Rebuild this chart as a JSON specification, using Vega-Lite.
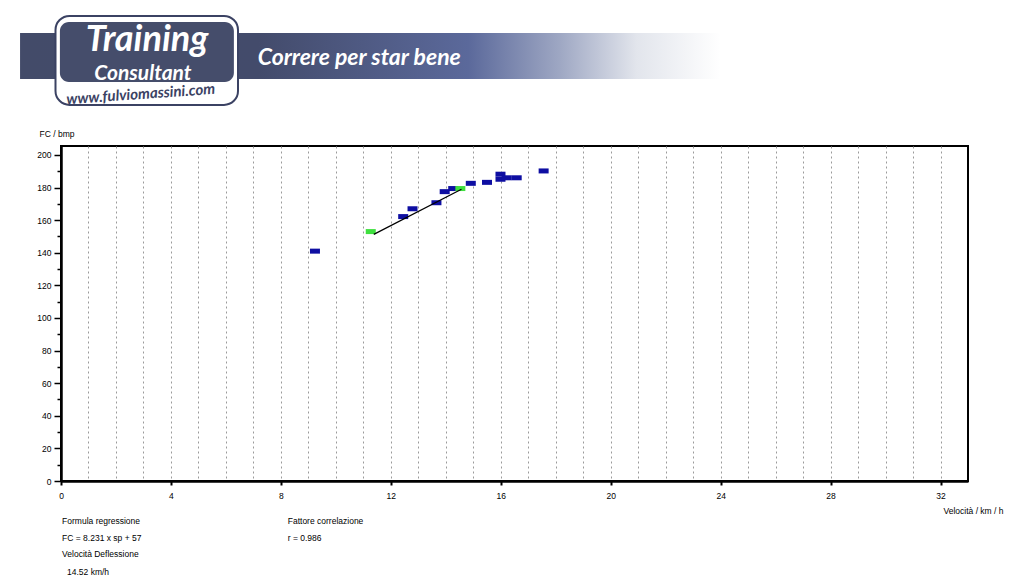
{
  "$schema": "https://vega.github.io/schema/vega-lite/v6.json",
  "width": 907,
  "height": 335,
  "autosize": {"type": "none"},
  "padding": {"left": 61, "top": 146, "right": 56, "bottom": 103},
  "background": "white",
  "config": {
    "view": {"stroke": "black", "strokeWidth": 2},
    "font": "Liberation Sans"
  },
  "data": {"values": [{}]},
  "datasets": {
    "punti": [
      {"vel": 9.24, "fc": 141, "tipo": "misura"},
      {"vel": 12.45, "fc": 162.2, "tipo": "misura"},
      {"vel": 12.79, "fc": 167, "tipo": "misura"},
      {"vel": 13.66, "fc": 170.7, "tipo": "misura"},
      {"vel": 13.96, "fc": 177.5, "tipo": "misura"},
      {"vel": 14.27, "fc": 179.4, "tipo": "misura"},
      {"vel": 14.91, "fc": 182.6, "tipo": "misura"},
      {"vel": 15.5, "fc": 183.2, "tipo": "misura"},
      {"vel": 15.99, "fc": 188.2, "tipo": "misura"},
      {"vel": 15.99, "fc": 185.1, "tipo": "misura"},
      {"vel": 16.22, "fc": 186, "tipo": "misura"},
      {"vel": 16.58, "fc": 186, "tipo": "misura"},
      {"vel": 17.56, "fc": 190.2, "tipo": "misura"},
      {"vel": 11.27, "fc": 153, "tipo": "soglia"},
      {"vel": 14.53, "fc": 179.4, "tipo": "soglia"}
    ],
    "regressione": [
      {"vel": 11.38, "fc": 151.3},
      {"vel": 14.57, "fc": 179}
    ]
  },
  "layer": [
    {
      "mark": {"type": "rect", "fill": {"gradient": "linear", "x1": 0, "x2": 1, "y1": 0, "y2": 0, "stops": [
        {"offset": 0, "color": "#434b69"},
        {"offset": 0.34, "color": "#434b6b"},
        {"offset": 0.64, "color": "#5b699b"},
        {"offset": 0.77, "color": "#9ea7c3"},
        {"offset": 0.88, "color": "#e2e5ec"},
        {"offset": 1, "color": "#ffffff"}
      ]}},
      "encoding": {
        "x": {"datum": -1.49, "type": "quantitative", "scale": {"domain": [0, 33], "nice": false}},
        "x2": {"datum": 24.0},
        "y": {"datum": 274.8, "type": "quantitative", "scale": {"domain": [0, 205.5], "nice": false}},
        "y2": {"datum": 246.6}
      }
    },
    {
      "mark": {"type": "rect", "fill": "white", "stroke": "#3b4263", "strokeWidth": 2, "cornerRadius": 14},
      "encoding": {
        "x": {"datum": -0.2, "type": "quantitative", "scale": {"domain": [0, 33], "nice": false}},
        "x2": {"datum": 6.44},
        "y": {"datum": 285.3, "type": "quantitative", "scale": {"domain": [0, 205.5], "nice": false}},
        "y2": {"datum": 230.7}
      }
    },
    {
      "mark": {"type": "rect", "fill": "#454d6b", "cornerRadius": 9},
      "encoding": {
        "x": {"datum": -0.04, "type": "quantitative", "scale": {"domain": [0, 33], "nice": false}},
        "x2": {"datum": 6.29},
        "y": {"datum": 281.6, "type": "quantitative", "scale": {"domain": [0, 205.5], "nice": false}},
        "y2": {"datum": 244.8}
      }
    },
    {
      "mark": {"type": "text", "text": "Training", "font": "Lato", "fontSize": 36, "fontWeight": "bold", "fontStyle": "italic", "color": "white", "align": "center", "baseline": "alphabetic"},
      "encoding": {
        "x": {"datum": 3.13, "type": "quantitative", "scale": {"domain": [0, 33], "nice": false}},
        "y": {"datum": 263.8, "type": "quantitative", "scale": {"domain": [0, 205.5], "nice": false}}
      }
    },
    {
      "mark": {"type": "text", "text": "Consultant", "font": "Lato", "fontSize": 21, "fontWeight": "bold", "fontStyle": "italic", "color": "white", "align": "center", "baseline": "alphabetic"},
      "encoding": {
        "x": {"datum": 2.98, "type": "quantitative", "scale": {"domain": [0, 33], "nice": false}},
        "y": {"datum": 246.0, "type": "quantitative", "scale": {"domain": [0, 205.5], "nice": false}}
      }
    },
    {
      "mark": {"type": "text", "text": "www.fulviomassini.com", "font": "Lato", "fontSize": 15, "fontWeight": "bold", "fontStyle": "italic", "color": "#3b4263", "align": "center", "baseline": "middle", "angle": -4},
      "encoding": {
        "x": {"datum": 2.9, "type": "quantitative", "scale": {"domain": [0, 33], "nice": false}},
        "y": {"datum": 237.4, "type": "quantitative", "scale": {"domain": [0, 205.5], "nice": false}}
      }
    },
    {
      "mark": {"type": "text", "text": "Correre per star bene", "font": "Lato", "fontSize": 23, "fontWeight": "bold", "fontStyle": "italic", "color": "white", "align": "left", "baseline": "alphabetic"},
      "encoding": {
        "x": {"datum": 7.16, "type": "quantitative", "scale": {"domain": [0, 33], "nice": false}},
        "y": {"datum": 255.2, "type": "quantitative", "scale": {"domain": [0, 205.5], "nice": false}}
      }
    },
    {
      "data": {"name": "punti"},
      "mark": {"type": "point", "shape": "M-1,-0.5L1,-0.5L1,0.5L-1,0.5Z", "filled": true, "size": 100, "opacity": 1},
      "encoding": {
        "x": {
          "field": "vel", "type": "quantitative",
          "scale": {"domain": [0, 33], "nice": false},
          "axis": {
            "values": [0,1,2,3,4,5,6,7,8,9,10,11,12,13,14,15,16,17,18,19,20,21,22,23,24,25,26,27,28,29,30,31,32],
            "tickCount": 50,
            "format": "d",
            "labelExpr": "datum.value % 4 === 0 ? datum.label : ''",
            "labelOverlap": false,
            "labelBound": false,
            "grid": true,
            "gridDash": [2, 3],
            "gridColor": {"condition": {"test": "datum.value === 0", "value": "transparent"}, "value": "#9a9a9a"},
            "gridWidth": 1,
            "domainColor": "black",
            "domainWidth": 2.5,
            "tickColor": {"condition": {"test": "datum.value % 4 === 0", "value": "black"}, "value": "transparent"},
            "tickWidth": 2,
            "tickSize": 4,
            "labelPadding": 6,
            "labelFontSize": 8.5,
            "labelColor": "black",
            "labelFlush": false,
            "title": "Velocità / km / h",
            "titleFontSize": 8.5,
            "titleFontWeight": "normal",
            "titleColor": "black",
            "titleAlign": "right",
            "titleBaseline": "middle",
            "titleX": 942,
            "titleY": 29
          }
        },
        "y": {
          "field": "fc", "type": "quantitative",
          "scale": {"domain": [0, 205.5], "nice": false},
          "axis": {
            "values": [0,10,20,30,40,50,60,70,80,90,100,110,120,130,140,150,160,170,180,190,200],
            "tickCount": 50,
            "format": "d",
            "labelExpr": "datum.value % 20 === 0 ? datum.label : ''",
            "labelOverlap": false,
            "labelBound": false,
            "grid": false,
            "domainColor": "black",
            "domainWidth": 2.5,
            "tickColor": "black",
            "tickWidth": 1.5,
            "tickSize": {"condition": {"test": "datum.value % 20 === 0", "value": 7}, "value": 4},
            "labelPadding": 3,
            "labelFontSize": 8.5,
            "labelColor": "black",
            "labelFlush": false,
            "title": "FC / bmp",
            "titleAngle": 0,
            "titleFontSize": 8.5,
            "titleFontWeight": "normal",
            "titleColor": "black",
            "titleAlign": "left",
            "titleBaseline": "middle",
            "titleX": -22,
            "titleY": -13
          }
        },
        "color": {
          "field": "tipo", "type": "nominal",
          "scale": {"domain": ["misura", "soglia"], "range": ["#0e0ea2", "#3fe03f"]},
          "legend": null
        }
      }
    },
    {
      "data": {"name": "regressione"},
      "mark": {"type": "line", "color": "black", "strokeWidth": 1.2},
      "encoding": {
        "x": {"field": "vel", "type": "quantitative", "scale": {"domain": [0, 33], "nice": false}},
        "y": {"field": "fc", "type": "quantitative", "scale": {"domain": [0, 205.5], "nice": false}}
      }
    },
    {
      "mark": {"type": "text", "text": "Formula regressione", "fontSize": 8.5, "color": "black", "align": "left", "baseline": "middle"},
      "encoding": {
        "x": {"datum": 0.04, "type": "quantitative", "scale": {"domain": [0, 33], "nice": false}},
        "y": {"datum": -24.5, "type": "quantitative", "scale": {"domain": [0, 205.5], "nice": false}}
      }
    },
    {
      "mark": {"type": "text", "text": "FC = 8.231 x sp + 57", "fontSize": 8.5, "color": "black", "align": "left", "baseline": "middle"},
      "encoding": {
        "x": {"datum": 0.04, "type": "quantitative", "scale": {"domain": [0, 33], "nice": false}},
        "y": {"datum": -35.0, "type": "quantitative", "scale": {"domain": [0, 205.5], "nice": false}}
      }
    },
    {
      "mark": {"type": "text", "text": "Velocità Deflessione", "fontSize": 8.5, "color": "black", "align": "left", "baseline": "middle"},
      "encoding": {
        "x": {"datum": 0.04, "type": "quantitative", "scale": {"domain": [0, 33], "nice": false}},
        "y": {"datum": -44.8, "type": "quantitative", "scale": {"domain": [0, 205.5], "nice": false}}
      }
    },
    {
      "mark": {"type": "text", "text": "14.52 km/h", "fontSize": 8.5, "color": "black", "align": "left", "baseline": "middle"},
      "encoding": {
        "x": {"datum": 0.22, "type": "quantitative", "scale": {"domain": [0, 33], "nice": false}},
        "y": {"datum": -55.8, "type": "quantitative", "scale": {"domain": [0, 205.5], "nice": false}}
      }
    },
    {
      "mark": {"type": "text", "text": "Fattore correlazione", "fontSize": 8.5, "color": "black", "align": "left", "baseline": "middle"},
      "encoding": {
        "x": {"datum": 8.25, "type": "quantitative", "scale": {"domain": [0, 33], "nice": false}},
        "y": {"datum": -24.5, "type": "quantitative", "scale": {"domain": [0, 205.5], "nice": false}}
      }
    },
    {
      "mark": {"type": "text", "text": "r = 0.986", "fontSize": 8.5, "color": "black", "align": "left", "baseline": "middle"},
      "encoding": {
        "x": {"datum": 8.25, "type": "quantitative", "scale": {"domain": [0, 33], "nice": false}},
        "y": {"datum": -35.0, "type": "quantitative", "scale": {"domain": [0, 205.5], "nice": false}}
      }
    }
  ]
}
